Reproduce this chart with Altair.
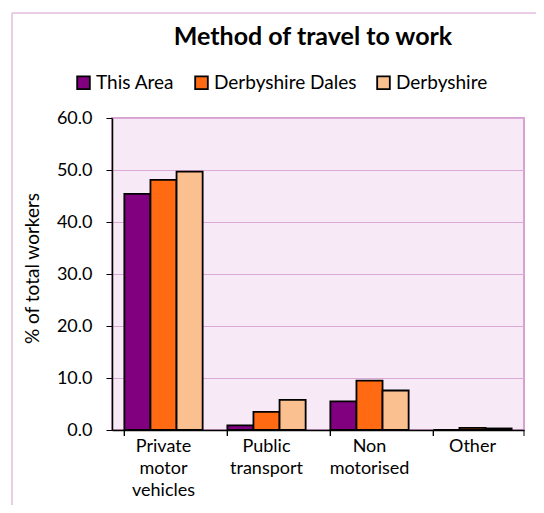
import altair as alt
import pandas as pd

categories = ["Private|motor|vehicles", "Public|transport", "Non|motorised", "Other"]
series = ["This Area", "Derbyshire Dales", "Derbyshire"]
this_area = [45.4, 0.9, 5.5, 0.0]
dales = [48.1, 3.5, 9.5, 0.4]
derbyshire = [49.7, 5.8, 7.6, 0.3]
colors = ["#800080", "#FF6A13", "#FBC08F"]

rows = []
for s, vals in zip(series, [this_area, dales, derbyshire]):
    for c, v in zip(categories, vals):
        rows.append({"category": c, "series": s, "value": v})
df = pd.DataFrame(rows)

FONT = "Lato"
W, H = 412, 312

bars = alt.Chart(df).mark_bar(stroke="black", strokeWidth=1.8).encode(
    x=alt.X("category:N", sort=categories,
            scale=alt.Scale(paddingInner=0.24, paddingOuter=0.12),
            axis=alt.Axis(title=None, labelAngle=0, ticks=False,
                          labelExpr="split(datum.label, '|')",
                          labelFontSize=18, labelLineHeight=22,
                          labelPadding=7, labelColor="black", labelFont=FONT,
                          domainColor="black", domainWidth=1.5, grid=False)),
    xOffset=alt.XOffset("series:N", sort=series, scale=alt.Scale(paddingInner=0, paddingOuter=0)),
    y=alt.Y("value:Q", scale=alt.Scale(domain=[0, 60]),
            axis=alt.Axis(values=[0, 10, 20, 30, 40, 50, 60], format=".1f",
                          title="% of total workers", titleFontSize=19,
                          titleFontWeight="normal", titleFont=FONT, titleColor="black",
                          titleX=-80, titleY=150, titleAngle=-90, titleAlign="center",
                          titleBaseline="middle",
                          labelFontSize=18, labelFont=FONT, labelColor="black",
                          labelPadding=14, tickSize=6, tickColor="black",
                          domainColor="black", domainWidth=1.5,
                          gridColor="#DCA8D6", gridWidth=1)),
    color=alt.Color("series:N", sort=series,
                    scale=alt.Scale(domain=series, range=colors),
                    legend=alt.Legend(title=None, orient="none", legendX=-38, legendY=-45,
                                      direction="horizontal", columns=3,
                                      symbolType="square", symbolSize=160,
                                      symbolStrokeColor="black", symbolStrokeWidth=1.8,
                                      symbolOpacity=1,
                                      labelFontSize=19, labelFont=FONT, labelColor="black",
                                      columnPadding=16, labelOffset=3)),
)

one = alt.Data(values=[{}])
end_tick = alt.Chart(one).mark_rule(color="black", strokeWidth=1).encode(
    x=alt.value(W), y=alt.value(H), y2=alt.value(H + 6))

# category boundary ticks
boundary = alt.Chart(df).mark_rule(color="black", strokeWidth=1).encode(
    x=alt.X("category:N", sort=categories, bandPosition=0),
    y=alt.value(H), y2=alt.value(H + 6))

frame_left = alt.Chart(one).mark_rule(color="#E9CDE7", strokeWidth=2).encode(
    x=alt.value(-100), y=alt.value(-105), y2=alt.value(H + 200))
frame_top = alt.Chart(one).mark_rule(color="#E9CDE7", strokeWidth=2).encode(
    x=alt.value(-100), x2=alt.value(W + 200), y=alt.value(-105))

chart = alt.layer(bars, boundary, end_tick, frame_left, frame_top).properties(
    width=W, height=H,
    background="white",
    title=alt.TitleParams("Method of travel to work", fontSize=25, font=FONT,
                          fontWeight="bold", color="black", anchor="middle",
                          baseline="alphabetic",
                          frame="group", offset=-58, dx=-5),
    autosize=alt.AutoSizeParams(type="none"),
    padding={"left": 104, "top": 110, "right": 12, "bottom": 75},
).configure_view(
    fill="#F7EAF6", stroke="#D7A2CF", strokeWidth=2
)

chart.save("out.html", embed_options={"renderer": "svg", "actions": False})
